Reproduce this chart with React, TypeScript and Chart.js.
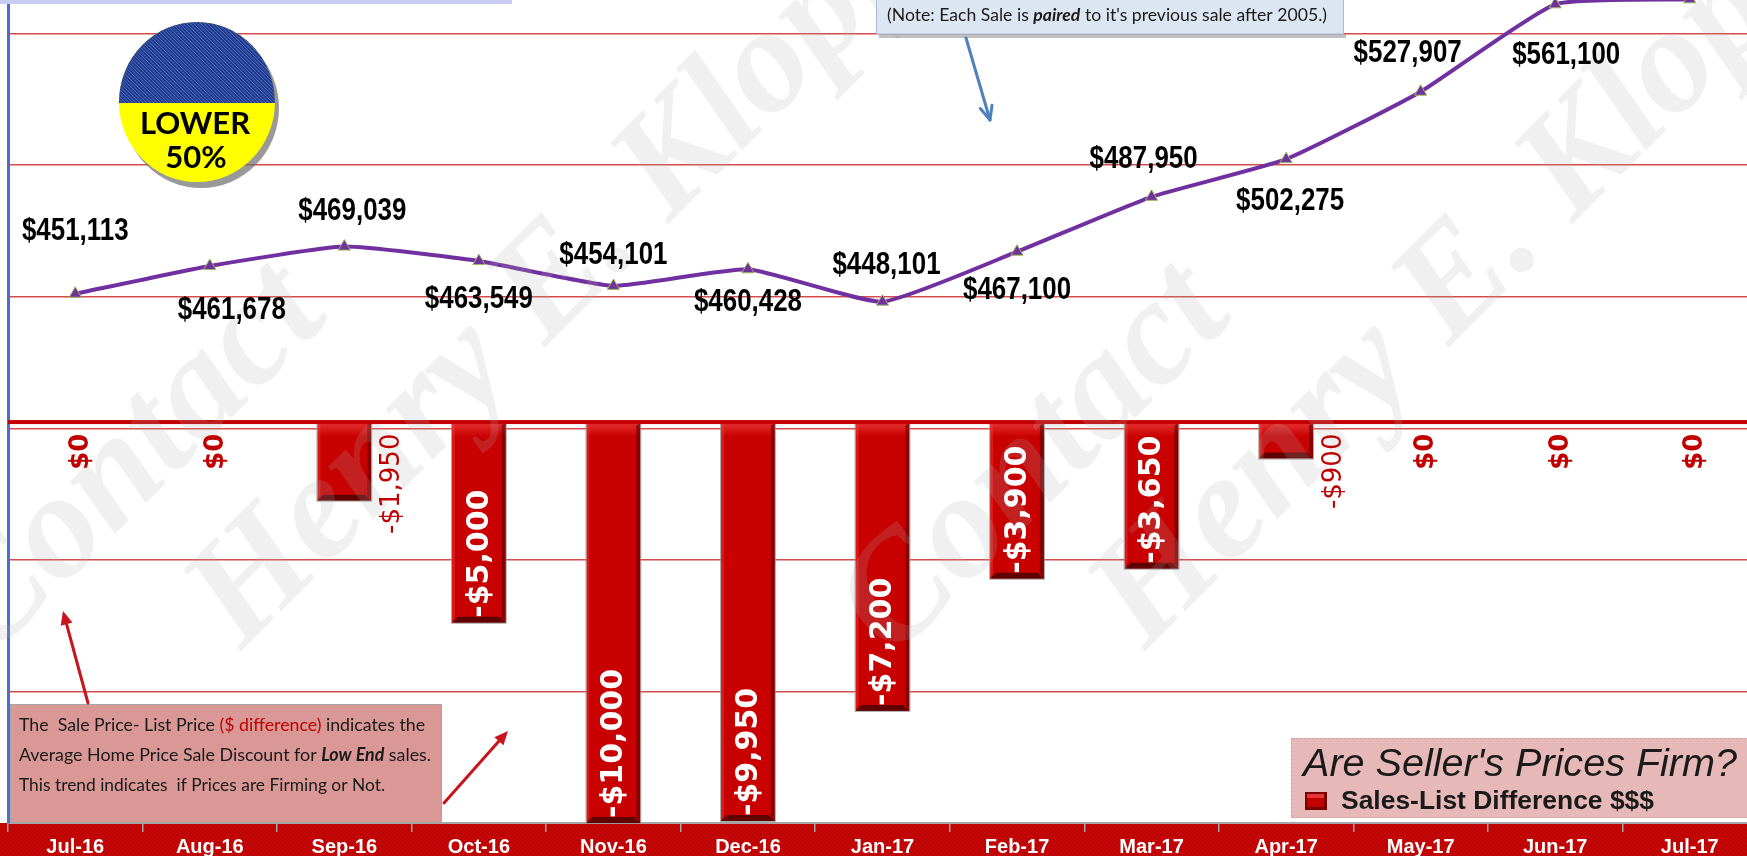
import React, { useEffect, useRef } from 'react';
import { Chart, registerables } from 'chart.js';

Chart.register(...registerables);

// ---------------- data ----------------
const categories = [
  'Jul-16', 'Aug-16', 'Sep-16', 'Oct-16', 'Nov-16', 'Dec-16', 'Jan-17',
  'Feb-17', 'Mar-17', 'Apr-17', 'May-17', 'Jun-17', 'Jul-17',
];
const avgSalePrice = [
  451113, 461678, 469039, 463549, 454101, 460428, 448101,
  467100, 487950, 502275, 527907, 561100, 563000,
];
const salesListDiff = [0, 0, -1950, -5000, -10000, -9950, -7200, -3900, -3650, -900, 0, 0, 0];
const legendLabel = 'Sales-List Difference $$$';
const chartTitle = "Are Seller's Prices Firm?";

// label nudges (style only)
const lineLabelDy = [-62, 44, -35, 38, -31, 33, -36, 39, -37, 42, -38, 51, -36];
const lineLabelDx = [0, 22, 8, 0, 0, 0, 4, 0, -8, 4, -13, 11, 0];

const CANVAS_W = 1765;
const CANVAS_H = 990;
const OFFSET_Y = 120;

const money = (v: number) => (v < 0 ? '-$' : '$') + Math.abs(v).toLocaleString('en-US');

type Run = { t: string; f: string; c: string };
function drawRuns(ctx: CanvasRenderingContext2D, runs: Run[], x: number, y: number, target?: number) {
  ctx.save();
  let total = 0;
  for (const r of runs) {
    ctx.font = r.f;
    total += ctx.measureText(r.t).width;
  }
  const sx = target ? target / total : 1;
  ctx.translate(x, y);
  ctx.scale(sx, 1);
  ctx.textAlign = 'left';
  ctx.textBaseline = 'alphabetic';
  let cx = 0;
  for (const r of runs) {
    ctx.font = r.f;
    ctx.fillStyle = r.c;
    ctx.fillText(r.t, cx, 0);
    cx += ctx.measureText(r.t).width;
  }
  ctx.restore();
}

function arrow(ctx: CanvasRenderingContext2D, x1: number, y1: number, x2: number, y2: number, color: string, w: number, open: boolean) {
  const a = Math.atan2(y2 - y1, x2 - x1);
  const L = 15;
  const spread = 0.42;
  ctx.save();
  ctx.strokeStyle = color;
  ctx.fillStyle = color;
  ctx.lineWidth = w;
  ctx.lineCap = 'round';
  ctx.lineJoin = 'round';
  ctx.beginPath();
  ctx.moveTo(x1, y1);
  ctx.lineTo(open ? x2 : x2 - Math.cos(a) * L * 0.7, open ? y2 : y2 - Math.sin(a) * L * 0.7);
  ctx.stroke();
  const p1x = x2 - Math.cos(a - spread) * L, p1y = y2 - Math.sin(a - spread) * L;
  const p2x = x2 - Math.cos(a + spread) * L, p2y = y2 - Math.sin(a + spread) * L;
  ctx.beginPath();
  if (open) {
    ctx.moveTo(p1x, p1y);
    ctx.lineTo(x2, y2);
    ctx.lineTo(p2x, p2y);
    ctx.stroke();
  } else {
    ctx.moveTo(x2, y2);
    ctx.lineTo(p1x, p1y);
    ctx.lineTo(p2x, p2y);
    ctx.closePath();
    ctx.fill();
  }
  ctx.restore();
}

function drawBarBevel(ctx: CanvasRenderingContext2D, x: number, top: number, bottom: number, w: number) {
  const l = x - w / 2, r = x + w / 2, h = bottom - top;
  if (h < 2) return;
  const bev = Math.min(6, h / 3);
  const g = ctx.createLinearGradient(0, top, 0, top + 14);
  g.addColorStop(0, 'rgba(255,90,90,0.55)');
  g.addColorStop(1, 'rgba(255,90,90,0)');
  ctx.fillStyle = g;
  ctx.fillRect(l, top, w, Math.min(14, h));
  ctx.fillStyle = 'rgba(80,0,0,0.55)';
  ctx.beginPath();
  ctx.moveTo(r, top);
  ctx.lineTo(r, bottom);
  ctx.lineTo(r - 4, bottom - bev);
  ctx.lineTo(r - 4, top + 3);
  ctx.closePath();
  ctx.fill();
  ctx.fillStyle = 'rgba(255,70,70,0.35)';
  ctx.beginPath();
  ctx.moveTo(l, top);
  ctx.lineTo(l + 3, top + 3);
  ctx.lineTo(l + 3, bottom - bev);
  ctx.lineTo(l, bottom);
  ctx.closePath();
  ctx.fill();
  ctx.fillStyle = 'rgba(70,0,0,0.8)';
  ctx.beginPath();
  ctx.moveTo(l, bottom);
  ctx.lineTo(r, bottom);
  ctx.lineTo(r - bev, bottom - bev);
  ctx.lineTo(l + bev, bottom - bev);
  ctx.closePath();
  ctx.fill();
  ctx.strokeStyle = 'rgba(150,150,150,0.8)';
  ctx.lineWidth = 1;
  ctx.strokeRect(l - 0.5, top, w + 1, h + 0.5);
}

const backgroundPlugin = {
  id: 'bgBand',
  beforeDraw(chart: any) {
    const { ctx, chartArea } = chart;
    ctx.save();
    ctx.fillStyle = '#ffffff';
    ctx.fillRect(0, 0, chart.width, chart.height);
    const top = chartArea.bottom;
    ctx.fillStyle = '#c00000';
    ctx.fillRect(0, top, chart.width, chart.height - top);
    ctx.beginPath();
    ctx.rect(0, top, chart.width, chart.height - top);
    ctx.clip();
    ctx.strokeStyle = 'rgba(255,255,255,0.07)';
    ctx.lineWidth = 1;
    for (let x = -100; x < chart.width + 100; x += 4) {
      ctx.beginPath();
      ctx.moveTo(x, chart.height);
      ctx.lineTo(x + (chart.height - top), top);
      ctx.stroke();
    }
    ctx.restore();
  },
};

const labelsPlugin = {
  id: 'marksAndLabels',
  afterDatasetsDraw(chart: any) {
    const { ctx, chartArea } = chart;
    const y2 = chart.scales.y2;
    const barMeta = chart.getDatasetMeta(1);
    const lineMeta = chart.getDatasetMeta(0);

    // bar bevels
    barMeta.data.forEach((el: any, i: number) => {
      if (salesListDiff[i] === 0) return;
      const p = el.getProps(['x', 'y', 'base', 'width'], true);
      drawBarBevel(ctx, p.x, p.base, p.y, p.width);
    });

    // zero line of the bar axis
    const z = y2.getPixelForValue(0);
    ctx.save();
    ctx.fillStyle = '#c40000';
    ctx.fillRect(chartArea.left, z - 2.5, chartArea.right - chartArea.left, 4);
    ctx.restore();

    // watermark
    ctx.save();
    ctx.translate(0, OFFSET_Y);
    ctx.fillStyle = 'rgba(175,175,175,0.19)';
    ctx.font = 'italic bold 150px "Liberation Serif", "DejaVu Serif", serif';
    ctx.textBaseline = 'alphabetic';
    ctx.textAlign = 'left';
    for (const ox of [-11, 893]) {
      ctx.save();
      ctx.translate(ox, 660);
      ctx.rotate((-45 * Math.PI) / 180);
      ctx.fillText('Contact', 0, 0);
      ctx.fillText('Henry E. Klopfenstein', 185, 172);
      ctx.restore();
    }
    ctx.restore();

    // line labels
    lineMeta.data.forEach((pt: any, i: number) => {
      const p = pt.getProps(['x', 'y'], true);
      ctx.save();
      ctx.translate(p.x + lineLabelDx[i], p.y + lineLabelDy[i]);
      ctx.scale(0.96, 1.16);
      ctx.font = 'bold 27px "Liberation Sans", Arial, sans-serif';
      ctx.textAlign = 'center';
      ctx.textBaseline = 'middle';
      ctx.fillStyle = '#000000';
      ctx.fillText(money(avgSalePrice[i]), 0, 0);
      ctx.restore();
    });

    // bar labels
    barMeta.data.forEach((el: any, i: number) => {
      const v = salesListDiff[i];
      const p = el.getProps(['x', 'y', 'base', 'width'], true);
      const txt = money(v);
      const h = p.y - p.base;
      ctx.save();
      ctx.font = 'bold 30px "DejaVu Sans", Verdana, sans-serif';
      const tw = ctx.measureText(txt).width;
      if (tw + 12 < h) {
        ctx.translate(p.x, p.y - 5);
        ctx.rotate(-Math.PI / 2);
        ctx.textAlign = 'left';
        ctx.textBaseline = 'middle';
        ctx.fillStyle = '#ffffff';
        ctx.fillText(txt, 0, 1);
      } else {
        ctx.font = v === 0 ? 'bold 26px "DejaVu Sans", Verdana, sans-serif' : '26px "DejaVu Sans", Verdana, sans-serif';
        const lx = v === 0 ? p.x + 6 : p.x + 48;
        ctx.translate(lx, p.base + 11);
        ctx.rotate(-Math.PI / 2);
        ctx.textAlign = 'right';
        ctx.textBaseline = 'middle';
        ctx.fillStyle = '#c00000';
        ctx.fillText(txt, 0, 0);
      }
      ctx.restore();
    });
  },
};

const overlayPlugin = {
  id: 'overlays',
  afterDraw(chart: any) {
    const ctx: CanvasRenderingContext2D = chart.ctx;
    ctx.save();
    ctx.translate(0, OFFSET_Y);

    // partial box at top-left
    ctx.fillStyle = '#c7cdf1';
    ctx.fillRect(0, -4, 512, 8);

    // note box
    ctx.fillStyle = 'rgba(150,150,150,0.6)';
    ctx.fillRect(879, 34, 467, 4);
    ctx.fillStyle = '#dce6f2';
    ctx.fillRect(876, -6, 468, 40);
    ctx.strokeStyle = '#a9bcd5';
    ctx.lineWidth = 1;
    ctx.strokeRect(876.5, -6, 467, 40);
    drawRuns(ctx, [
      { t: '(Note: Each Sale is ', f: '17px Lato, sans-serif', c: '#1a1a1a' },
      { t: 'paired', f: 'italic bold 17px Lato, sans-serif', c: '#1a1a1a' },
      { t: " to it's previous sale after 2005.)", f: '17px Lato, sans-serif', c: '#1a1a1a' },
    ], 887, 21, 440);
    arrow(ctx, 966, 38, 990, 120, '#4f81bd', 3, true);

    // LOWER 50% badge
    const cx = 197, cy = 102, rx = 78, ry = 80, split = 103;
    ctx.save();
    ctx.fillStyle = 'rgba(110,110,110,0.7)';
    ctx.beginPath();
    ctx.ellipse(cx + 4, cy + 6, rx, ry, 0, 0, Math.PI * 2);
    ctx.fill();
    ctx.beginPath();
    ctx.ellipse(cx, cy, rx, ry, 0, 0, Math.PI * 2);
    ctx.clip();
    ctx.fillStyle = '#ffff00';
    ctx.fillRect(cx - rx, cy - ry, rx * 2, ry * 2);
    ctx.fillStyle = '#1f3a8f';
    ctx.fillRect(cx - rx, cy - ry, rx * 2, split - (cy - ry));
    ctx.beginPath();
    ctx.rect(cx - rx, cy - ry, rx * 2, split - (cy - ry));
    ctx.clip();
    ctx.strokeStyle = 'rgba(120,150,220,0.55)';
    ctx.lineWidth = 1;
    for (let s = -200; s < 200; s += 3.5) {
      ctx.beginPath();
      ctx.moveTo(cx - rx + s, cy - ry);
      ctx.lineTo(cx - rx + s + 200, cy - ry + 200);
      ctx.stroke();
    }
    ctx.restore();
    ctx.save();
    ctx.fillStyle = '#000000';
    ctx.textAlign = 'center';
    ctx.textBaseline = 'alphabetic';
    ctx.font = 'bold 31px Lato, sans-serif';
    ctx.fillText('LOWER', 195, 134);
    ctx.fillText('50%', 196, 168);
    ctx.restore();

    // pink explanation box
    ctx.fillStyle = '#d99795';
    ctx.fillRect(10, 704, 432, 119);
    ctx.strokeStyle = '#a6a6a6';
    ctx.lineWidth = 1;
    ctx.strokeRect(10.5, 704.5, 431, 118);
    const base = '18px Lato, sans-serif';
    drawRuns(ctx, [
      { t: 'The  Sale Price- List Price ', f: base, c: '#1a1a1a' },
      { t: '($ difference)', f: base, c: '#c00000' },
      { t: ' indicates the', f: base, c: '#1a1a1a' },
    ], 19, 731, 406);
    drawRuns(ctx, [
      { t: 'Average Home Price Sale Discount for ', f: base, c: '#1a1a1a' },
      { t: 'Low End', f: 'italic bold 18px Lato, sans-serif', c: '#1a1a1a' },
      { t: ' sales.', f: base, c: '#1a1a1a' },
    ], 19, 761, 412);
    drawRuns(ctx, [
      { t: 'This trend indicates  if Prices are Firming or Not.', f: base, c: '#1a1a1a' },
    ], 19, 791, 366);
    arrow(ctx, 88, 703, 63, 611, '#c8141c', 3, false);
    arrow(ctx, 444, 803, 508, 731, '#c8141c', 3, false);

    // title / legend box
    ctx.fillStyle = '#e6b9b8';
    ctx.fillRect(1291, 738, 480, 80);
    ctx.save();
    ctx.setLineDash([2, 2]);
    ctx.strokeStyle = '#d39a9a';
    ctx.strokeRect(1291.5, 738.5, 480, 79);
    ctx.restore();
    drawRuns(ctx, [{ t: chartTitle, f: 'italic 39px "Liberation Sans", Arial, sans-serif', c: '#1a1a1a' }], 1303, 776, 434);
    ctx.fillStyle = '#7a0000';
    ctx.fillRect(1305, 792, 22, 18);
    ctx.fillStyle = '#c00000';
    ctx.fillRect(1307, 794, 17, 13);
    ctx.fillStyle = 'rgba(255,90,90,0.6)';
    ctx.fillRect(1307, 794, 17, 4);
    drawRuns(ctx, [{ t: legendLabel, f: 'bold 26px "Liberation Sans", Arial, sans-serif', c: '#1a1a1a' }], 1341, 809, 313);

    ctx.restore();
  },
};

export default function App() {
  const ref = useRef<HTMLCanvasElement | null>(null);

  useEffect(() => {
    if (!ref.current) return;
    const chart = new Chart(ref.current, {
      data: {
        labels: categories,
        datasets: [
          {
            type: 'line',
            label: 'Average Sale Price',
            data: avgSalePrice,
            yAxisID: 'y',
            borderColor: '#7030a0',
            borderWidth: 4,
            tension: 0.15,
            pointStyle: 'triangle',
            pointRadius: 7,
            pointBackgroundColor: '#7030a0',
            pointBorderColor: '#9bbb59',
            pointBorderWidth: 1,
            order: 0,
          },
          {
            type: 'bar',
            label: legendLabel,
            data: salesListDiff,
            yAxisID: 'y2',
            backgroundColor: '#c80000',
            borderWidth: 0,
            categoryPercentage: 0.8,
            barPercentage: 0.5,
            order: 1,
          },
        ],
      } as any,
      options: {
        responsive: false,
        devicePixelRatio: 1,
        animation: false,
        events: [],
        layout: { padding: { top: 22, left: 3, right: 4, bottom: 0 } },
        plugins: {
          legend: { display: false },
          tooltip: { enabled: false },
          title: { display: false },
        },
        scales: {
          x: {
            type: 'category',
            offset: true,
            grid: {
              display: true,
              drawOnChartArea: false,
              drawTicks: true,
              tickLength: 9,
              color: '#a6a6a6',
              lineWidth: 1.5,
              offset: true,
            },
            border: { display: true, color: '#a6a6a6', width: 2 },
            ticks: {
              color: '#ffffff',
              font: { family: '"Liberation Sans", Arial, sans-serif', weight: 'bold', size: 20 },
              padding: 3,
              maxRotation: 0,
              autoSkip: false,
            },
            afterFit: (s: any) => { s.height = 47; },
          },
          y: {
            type: 'linear',
            position: 'left',
            min: 250000,
            max: 600000,
            ticks: { display: false, stepSize: 50000 },
            grid: { color: 'rgba(205,45,45,0.85)', lineWidth: 1.5, drawTicks: false },
            border: { display: true, color: '#4a6fc8', width: 3 },
            afterFit: (s: any) => { s.width = 0; },
          },
          y2: {
            type: 'linear',
            position: 'right',
            min: -10000,
            max: 13000,
            ticks: { display: false, stepSize: 1000 },
            grid: { display: false },
            border: { display: false },
            afterFit: (s: any) => { s.width = 0; },
          },
        },
      } as any,
      plugins: [backgroundPlugin, labelsPlugin, overlayPlugin],
    });
    return () => chart.destroy();
  }, []);

  return (
    <div style={{ position: 'fixed', left: 0, top: 0, width: 1747, height: 856, overflow: 'hidden', background: '#ffffff' }}>
      <canvas
        ref={ref}
        width={CANVAS_W}
        height={CANVAS_H}
        style={{ position: 'absolute', left: 0, top: -OFFSET_Y, width: CANVAS_W, height: CANVAS_H }}
      />
    </div>
  );
}
